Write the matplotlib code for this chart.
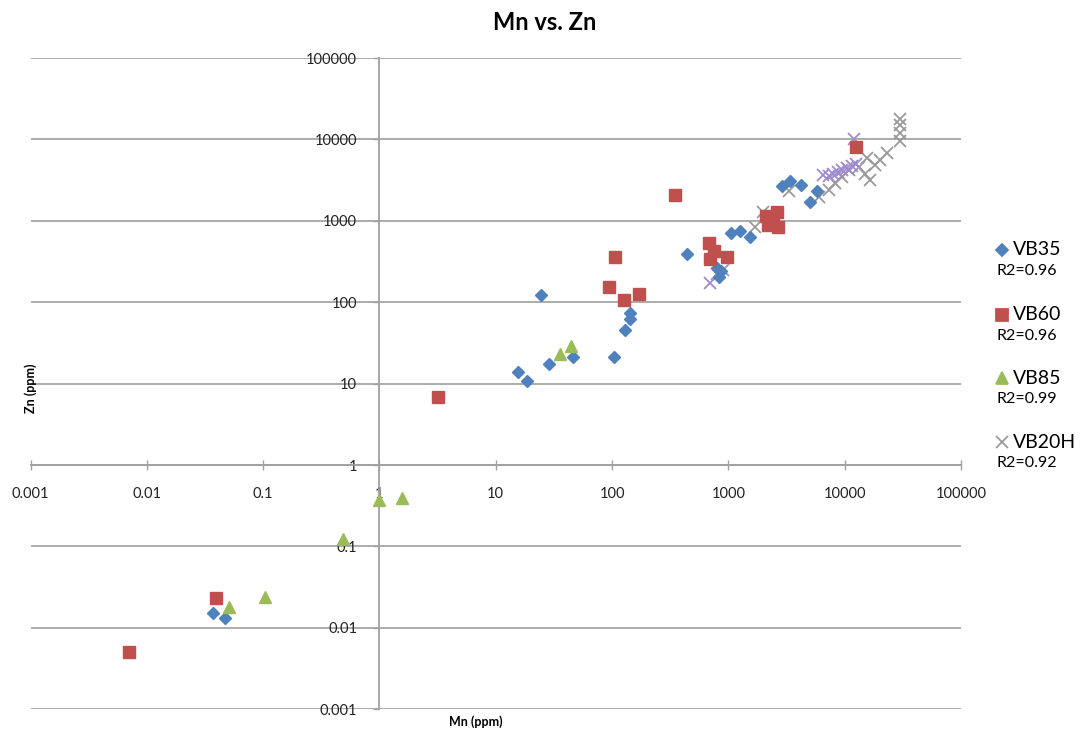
import matplotlib.pyplot as plt
from matplotlib.lines import Line2D
from matplotlib.ticker import FixedLocator, FixedFormatter, NullLocator

plt.rcParams['font.family'] = ['Lato', 'DejaVu Sans']

# Mn (x) and Zn (y) in ppm
vb35_mn = [0.037, 0.047, 15.6, 18.6, 24.5, 28.6, 46, 103, 129, 144, 144, 442,
           800, 870, 830, 1050, 1250, 1550, 2880, 3400, 4200, 5000, 5800]
vb35_zn = [0.0151, 0.0131, 14, 10.8, 123, 17.3, 21, 21, 46, 63, 73, 390,
           260, 240, 205, 700, 750, 640, 2650, 3050, 2750, 1700, 2300]

vb60_mn = [0.007, 0.039, 3.2, 94, 107, 126, 170, 346, 680, 690, 760, 980,
           2100, 2250, 2400, 2600, 2700, 2200, 12500]
vb60_zn = [0.0051, 0.0234, 6.8, 152, 356, 105, 125, 2100, 540, 340, 420, 360,
           1150, 1000, 1050, 1300, 850, 900, 8000]

vb85_mn = [0.051, 0.103, 0.49, 1.0, 1.55, 36, 44]
vb85_zn = [0.0178, 0.024, 0.122, 0.37, 0.39, 23, 29]

vb20h_mn = [1700, 2000, 3300, 6000, 7300, 8300, 9500, 10800, 13200, 15100,
            16600, 15600, 18400, 20300, 23200, 30000, 30000, 30000, 30000]
vb20h_zn = [850, 1300, 2300, 1950, 2400, 2900, 3500, 4200, 4600, 3800,
            3200, 5900, 4850, 5600, 6800, 9500, 12000, 15000, 18000]

# second set of x markers (not in the legend)
extra_mn = [700, 800, 900, 6500, 7300, 8000, 8800, 9500, 10500, 11500, 12500, 12000]
extra_zn = [170, 220, 250, 3700, 3600, 3800, 4000, 4200, 4500, 4700, 5000, 10000]

ticks = [0.001, 0.01, 0.1, 1, 10, 100, 1000, 10000, 100000]
tick_labels = ['0.001', '0.01', '0.1', '1', '10', '100', '1000', '10000', '100000']

legend_names = ['VB35', 'VB60', 'VB85', 'VB20H']
legend_r2 = ['R2=0.96', 'R2=0.96', 'R2=0.99', 'R2=0.92']

blue = '#4f81bd'
red = '#c0504d'
green = '#9bbb59'
gray = '#9a9a9a'
purple = '#a08bd2'

fig = plt.figure(figsize=(10.88, 7.38), dpi=100)
ax = fig.add_axes([0.0281, 0.039, 0.8551, 0.8824])

ax.set_xscale('log')
ax.set_yscale('log')
ax.set_xlim(0.001, 100000)
ax.set_ylim(0.001, 100000)

ax.plot(vb20h_mn, vb20h_zn, 'x', color=gray, ms=8, mew=1.3, zorder=3)
ax.plot(extra_mn, extra_zn, 'x', color=purple, ms=8, mew=1.3, zorder=3)
ax.plot(vb35_mn, vb35_zn, 'D', color=blue, ms=6, mec=blue, zorder=4)
ax.plot(vb60_mn, vb60_zn, 's', color=red, ms=8, mec=red, zorder=4)
ax.plot(vb85_mn, vb85_zn, '^', color=green, ms=8, mec=green, zorder=4)

# axes cross at (1, 1)
for s in ['top', 'right']:
    ax.spines[s].set_visible(False)
ax.spines['left'].set_position(('data', 1))
ax.spines['bottom'].set_position(('data', 1))
for s in ['left', 'bottom']:
    ax.spines[s].set_color('#a0a0a0')
    ax.spines[s].set_linewidth(1.3)

ax.xaxis.set_major_locator(FixedLocator(ticks))
ax.xaxis.set_major_formatter(FixedFormatter(tick_labels))
ax.yaxis.set_major_locator(FixedLocator(ticks))
ax.yaxis.set_major_formatter(FixedFormatter(tick_labels))
ax.xaxis.set_minor_locator(NullLocator())
ax.yaxis.set_minor_locator(NullLocator())

ax.tick_params(axis='x', direction='inout', length=7, width=1, color='#a0a0a0',
               labelsize=10.5, labelcolor='#222222', pad=12)
ax.tick_params(axis='y', direction='out', length=4, width=1, color='#a0a0a0',
               labelsize=10.5, labelcolor='#222222', pad=12)

ax.grid(axis='y', color='#a6a6a6', lw=1.3)
ax.set_axisbelow(True)

fig.text(0.501, 0.970, 'Mn vs. Zn', ha='center', va='center',
         fontsize=17, fontweight='bold')
fig.text(0.0285, 0.474, 'Zn (ppm)', rotation=90, ha='center', va='center',
         fontsize=9, fontweight='bold')
fig.text(0.437, 0.022, 'Mn (ppm)', ha='center', va='center',
         fontsize=9, fontweight='bold')

# legend on the right, name with R2 beneath
markers = ['D', 's', '^', 'x']
colors = [blue, red, green, gray]
sizes = [6, 8, 8, 8]
rows = [250, 315, 378, 442]
for name, r2, m, c, ms, py in zip(legend_names, legend_r2, markers, colors, sizes, rows):
    yf = 1 - py / 738
    fig.add_artist(Line2D([1002 / 1088], [yf], marker=m, color=c, mec=c, ms=ms,
                          mew=1.3, linestyle='none'))
    fig.text(1013 / 1088, yf, name, ha='left', va='center', fontsize=14)
    fig.text(996 / 1088, 1 - (py + 21) / 738, r2, ha='left', va='center', fontsize=11.5)

fig.savefig('out.png', dpi=100)
